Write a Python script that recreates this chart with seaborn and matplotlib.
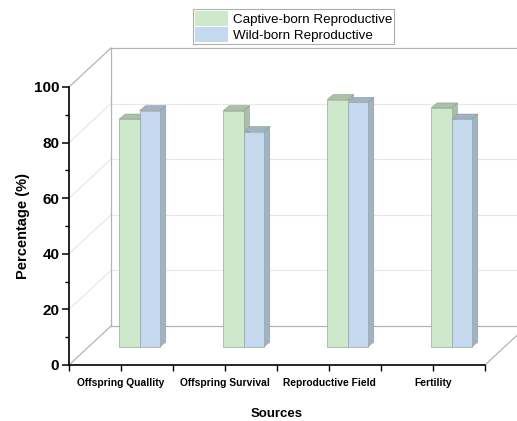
import numpy as np
import pandas as pd
import seaborn as sns
import matplotlib.pyplot as plt
from matplotlib.patches import Polygon
from matplotlib.transforms import ScaledTranslation, IdentityTransform

# ---------------- data ----------------
categories = ["Offspring Quallity", "Offspring Survival", "Reproductive Field", "Fertility"]
series = ["Captive-born Reproductive", "Wild-born Reproductive"]
captive_values = [82, 85, 89, 86]
wild_values = [85, 77.5, 88, 82]
y_ticks = [0, 20, 40, 60, 80, 100]

face_colors = ["#cde8cb", "#c5d9ee"]
side_colors = ["#a9c2a7", "#9fb2c6"]

df = pd.DataFrame({
    "Sources": categories * 2,
    "Group": [series[0]] * len(categories) + [series[1]] * len(categories),
    "Value": captive_values + wild_values,
})

plt.rcParams["font.family"] = ["Liberation Sans", "DejaVu Sans"]

DPI = 100
fig = plt.figure(figsize=(5.17, 4.21), dpi=DPI)
W, H = 517, 421
ax = fig.add_axes([69 / W, (H - 365) / H, (485 - 69) / W, (365 - 87) / H])

sns.barplot(data=df, x="Sources", y="Value", hue="Group", palette=face_colors,
            width=0.39, edgecolor="#9aa79a", linewidth=0.5, ax=ax, zorder=3,
            saturation=1, errorbar=None)

ax.set_xlim(-0.5, len(categories) - 0.5)
ax.set_ylim(0, 100)

# 3D offsets in pixels
bar_dx, bar_dy = 18.5, 18.0      # bar plane depth
depth_dx, depth_dy = 6.0, 5.0     # bar thickness
wall_dx, wall_dy = 42.0, 39.0     # back wall

bar_off = ScaledTranslation(bar_dx / DPI, bar_dy / DPI, fig.dpi_scale_trans)
wall_off = ScaledTranslation(wall_dx / DPI, wall_dy / DPI, fig.dpi_scale_trans)

# ---------- back wall & floor & left wall ----------
x0, x1 = ax.get_xlim()
td = ax.transData
for v in y_ticks:
    col = "#b4b4b4" if v in (0, 100) else "#e8e8e8"
    ax.plot([x0, x1], [v, v], transform=td + wall_off, color=col, lw=0.9,
            clip_on=False, zorder=0.5)
    p_front = td.transform((x0, v))
    p_back = p_front + np.array([wall_dx, wall_dy])
    ax.add_line(plt.Line2D([p_front[0], p_back[0]], [p_front[1], p_back[1]],
                           transform=IdentityTransform(), color=col, lw=0.9,
                           clip_on=False, zorder=0.5))
# back-left vertical edge
ax.plot([x0, x0], [0, 100], transform=td + wall_off, color="#b4b4b4", lw=0.9,
        clip_on=False, zorder=0.5)
# floor right edge
pf = td.transform((x1, 0))
pb = pf + np.array([wall_dx, wall_dy])
ax.add_line(plt.Line2D([pf[0], pb[0]], [pf[1], pb[1]], transform=IdentityTransform(),
                       color="#b4b4b4", lw=0.9, clip_on=False, zorder=0.5))

# ---------- bars: shift & add side/top faces ----------
bars = [p for p in ax.patches if p.get_height() > 0]
n = len(categories)
for i, p in enumerate(bars):
    s = i // n
    p.set_transform(td + bar_off)
    p.set_clip_on(False)
    bx, bw, bh = p.get_x(), p.get_width(), p.get_height()
    br = td.transform((bx + bw, 0)) + np.array([bar_dx, bar_dy])
    tl = td.transform((bx, bh)) + np.array([bar_dx, bar_dy])
    tr = td.transform((bx + bw, bh)) + np.array([bar_dx, bar_dy])
    d = np.array([depth_dx, depth_dy])
    side = Polygon([br, tr, tr + d, br + d], closed=True, facecolor=side_colors[s],
                   edgecolor="#8f9c8f", lw=0.4, transform=IdentityTransform(),
                   clip_on=False, zorder=2.9)
    top = Polygon([tl, tr, tr + d, tl + d], closed=True, facecolor=side_colors[s],
                  edgecolor="#8f9c8f", lw=0.4, transform=IdentityTransform(),
                  clip_on=False, zorder=2.9)
    ax.add_patch(side)
    ax.add_patch(top)

# ---------- axes styling ----------
for sp in ["top", "right"]:
    ax.spines[sp].set_visible(False)
for sp in ["left", "bottom"]:
    ax.spines[sp].set_color("black")
    ax.spines[sp].set_linewidth(1.2)
ax.set_facecolor("none")
ax.grid(False)

ax.set_yticks(y_ticks)
ax.set_yticks(np.arange(10, 100, 20), minor=True)
ax.set_xticks(np.arange(-0.5, n, 1.0), minor=True)
ax.tick_params(axis="y", which="major", length=5, width=1.1, labelsize=11, pad=2)
ax.tick_params(axis="y", which="minor", length=3, width=1.0)
ax.tick_params(axis="x", which="both", length=4, width=1.0, labelsize=7.4, pad=5)
for lab in ax.get_yticklabels():
    lab.set_fontweight("bold")
for lab in ax.get_xticklabels():
    lab.set_fontweight("bold")

ax.set_xlabel("Sources", fontsize=9.5, fontweight="bold", labelpad=15)
ax.set_ylabel("Percentage (%)", fontsize=10.5, fontweight="bold", labelpad=3)

# ---------- legend ----------
handles, labels = ax.get_legend_handles_labels()
if ax.get_legend() is not None:
    ax.get_legend().remove()
leg = fig.legend(handles, labels, loc="upper left",
                 bbox_to_anchor=(193 / W, 1 - 9 / H), frameon=True, fontsize=9.6,
                 handlelength=2.5, handleheight=1.35, labelspacing=0.08,
                 borderpad=0.15, handletextpad=0.35, borderaxespad=0,
                 fancybox=False, edgecolor="#9a9a9a")
leg.get_frame().set_linewidth(0.8)
for h in leg.legend_handles:
    h.set_edgecolor("none")

fig.savefig("out.png", dpi=DPI)
